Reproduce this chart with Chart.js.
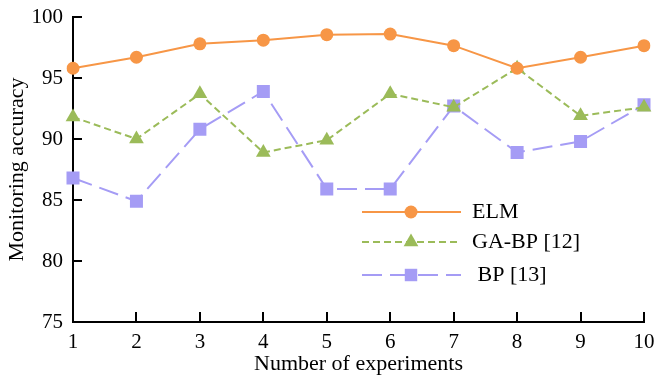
<!DOCTYPE html>
<html>
<head>
<meta charset="utf-8">
<script src="https://cdn.jsdelivr.net/npm/chart.js@4"></script>
<style>
  body { margin: 0; background: #fff; }
  canvas { display: block; }
</style>
</head>
<body>
<canvas id="chart" width="657" height="378"></canvas>
<script>
// values
const experiments = ['1', '2', '3', '4', '5', '6', '7', '8', '9', '10'];
const elmValues = [95.8, 96.7, 97.8, 98.1, 98.55, 98.6, 97.65, 95.8, 96.7, 97.65];
const gaBpValues = [91.8, 90.0, 93.7, 88.9, 89.9, 93.7, 92.6, 95.8, 91.9, 92.6];
const bpValues = [86.8, 84.9, 90.8, 93.9, 85.9, 85.9, 92.7, 88.9, 89.8, 92.8];
const seriesNames = ['ELM', 'GA-BP [12]', ' BP [13]'];
const yMin = 75, yMax = 100, yStep = 5;

const FONT = "'Liberation Serif', 'Times New Roman', serif";

// ticks point inwards in the original, so draw them by hand
const innerTicks = {
    id: 'innerTicks',
    afterDraw(chart) {
        const ctx = chart.ctx;
        const x = chart.scales.x, y = chart.scales.y;
        const area = chart.chartArea;
        ctx.save();
        ctx.strokeStyle = '#000';
        ctx.lineWidth = 2;
        ctx.beginPath();
        for (let v = yMin; v <= yMax; v += yStep) {
            const py = Math.round(y.getPixelForValue(v));
            ctx.moveTo(area.left, py);
            ctx.lineTo(area.left + 9, py);
        }
        experiments.forEach((lab, i) => {
            const px = Math.round(x.getPixelForValue(i));
            ctx.moveTo(px, area.bottom);
            ctx.lineTo(px, area.bottom - 10);
        });
        ctx.stroke();
        ctx.restore();
    }
};

// legend sits inside the plot, lower middle
const insideLegend = {
    id: 'insideLegend',
    afterDatasetsDraw(chart) {
        const ctx = chart.ctx;
        const rows = [212, 242, 275];
        const x0 = 362, x1 = 461, xm = 411;
        ctx.save();
        chart.data.datasets.forEach((ds, i) => {
            const yy = rows[i];
            ctx.strokeStyle = ds.borderColor;
            ctx.lineWidth = ds.borderWidth;
            ctx.setLineDash(ds.borderDash || []);
            ctx.beginPath();
            ctx.moveTo(x0, yy);
            ctx.lineTo(x1, yy);
            ctx.stroke();
            ctx.setLineDash([]);
            ctx.fillStyle = ds.backgroundColor;
            ctx.strokeStyle = ds.borderColor;
            Chart.helpers.drawPoint(ctx, {
                pointStyle: ds.pointStyle,
                radius: ds.legendRadius,
                borderWidth: 0
            }, xm, yy);
            ctx.fillStyle = '#000';
            ctx.font = '22px ' + FONT;
            ctx.textBaseline = 'middle';
            ctx.fillText(ds.label, 472, yy);
        });
        ctx.restore();
    }
};

new Chart(document.getElementById('chart'), {
    type: 'line',
    data: {
        labels: experiments,
        datasets: [
            {
                label: seriesNames[0],
                data: elmValues,
                borderColor: '#f79646',
                backgroundColor: '#f79646',
                borderWidth: 2,
                pointStyle: 'circle',
                pointRadius: 6.5,
                legendRadius: 6.5,
                pointBorderWidth: 0
            },
            {
                label: seriesNames[1],
                data: gaBpValues,
                borderColor: '#9bbb59',
                backgroundColor: '#9bbb59',
                borderWidth: 2,
                borderDash: [7, 4],
                pointStyle: 'triangle',
                pointRadius: 8.5,
                legendRadius: 8.5,
                pointBorderWidth: 0
            },
            {
                label: seriesNames[2],
                data: bpValues,
                borderColor: '#a59cf5',
                backgroundColor: '#a59cf5',
                borderWidth: 2,
                borderDash: [20, 8],
                pointStyle: 'rect',
                pointRadius: 9.2,
                legendRadius: 8.8,
                pointBorderWidth: 0
            }
        ]
    },
    options: {
        responsive: false,
        animation: false,
        layout: { padding: { top: 17, right: 13, left: 0, bottom: 0 } },
        plugins: {
            legend: { display: false },
            tooltip: { enabled: false }
        },
        scales: {
            x: {
                type: 'category',
                offset: false,
                grid: { display: false, drawTicks: false },
                border: { color: '#000', width: 2 },
                ticks: { color: '#000', font: { family: FONT, size: 21 }, padding: 8, maxRotation: 0 },
                title: { display: true, text: 'Number of experiments', color: '#000', font: { family: FONT, size: 22 }, padding: { top: 0, bottom: 1 } },
                afterFit(scale) {
                    scale.height = 56;
                    scale.paddingLeft = 0;
                    scale.paddingRight = 0;
                }
            },
            y: {
                min: yMin,
                max: yMax,
                grid: { display: false, drawTicks: false },
                border: { color: '#000', width: 2 },
                ticks: { stepSize: yStep, color: '#000', font: { family: FONT, size: 21 }, padding: 10 },
                title: { display: true, text: 'Monitoring accuracy', color: '#000', font: { family: FONT, size: 22 }, padding: { top: 4, bottom: 0 } },
                afterFit(scale) {
                    scale.width = 73;
                    scale.paddingTop = 0;
                    scale.paddingBottom = 0;
                }
            }
        }
    },
    plugins: [innerTicks, insideLegend]
});
</script>
</body>
</html>
